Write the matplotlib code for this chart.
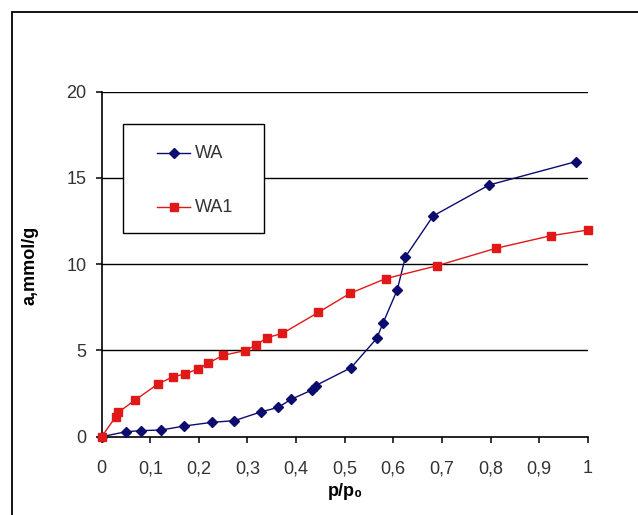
import matplotlib
matplotlib.use("Agg")
import matplotlib.pyplot as plt
from matplotlib.patches import Rectangle
from matplotlib.lines import Line2D

plt.rcParams['font.family'] = ['Liberation Sans', 'DejaVu Sans']

wa_x = [0.0, 0.05, 0.081, 0.123, 0.17, 0.226, 0.273, 0.327, 0.363, 0.39, 0.432, 0.44,
        0.513, 0.566, 0.579, 0.608, 0.625, 0.682, 0.797, 0.975]
wa_y = [0.0, 0.29, 0.35, 0.39, 0.62, 0.83, 0.93, 1.43, 1.7, 2.17, 2.7, 2.96,
        4.0, 5.7, 6.6, 8.5, 10.43, 12.8, 14.59, 15.94]

wa1_x = [0.0, 0.029, 0.034, 0.069, 0.115, 0.147, 0.171, 0.199, 0.218, 0.25, 0.295, 0.317,
         0.34, 0.372, 0.446, 0.511, 0.584, 0.69, 0.811, 0.924, 1.0]
wa1_y = [0.0, 1.16, 1.41, 2.13, 3.04, 3.48, 3.63, 3.94, 4.25, 4.72, 4.99, 5.3,
         5.74, 5.99, 7.21, 8.31, 9.16, 9.91, 10.92, 11.65, 11.98]

x_ticks = [0, 0.1, 0.2, 0.3, 0.4, 0.5, 0.6, 0.7, 0.8, 0.9, 1.0]
x_tick_labels = ['0', '0,1', '0,2', '0,3', '0,4', '0,5', '0,6', '0,7', '0,8', '0,9', '1']
y_ticks = [0, 5, 10, 15, 20]

blue = '#0c0c6e'
red = '#e01818'
txt = '#333333'
fs = 13

W, H = 638, 515
fig = plt.figure(figsize=(W/100, H/100), dpi=100)
# outer frame
fig.add_artist(Rectangle((12/W, -0.1), 1.0, (H - 11.5)/H + 0.1, transform=fig.transFigure,
                         fill=False, edgecolor='black', linewidth=1.3))

ax = fig.add_axes([101.7/W, (H - 436.7)/H, 486/W, 345/H])
ax.set_xlim(0, 1)
ax.set_ylim(0, 20)

for yv in y_ticks[1:]:
    ax.axhline(yv, color='black', linewidth=1.0, zorder=1)

ax.plot(wa_x, wa_y, color=blue, linewidth=1.0, marker='D', markersize=5,
        markerfacecolor=blue, markeredgecolor=blue, clip_on=False, zorder=3, label='WA')
ax.plot(wa1_x, wa1_y, color=red, linewidth=1.0, marker='s', markersize=5.5,
        markerfacecolor=red, markeredgecolor=red, clip_on=False, zorder=4, label='WA1')

for s in ['top', 'right']:
    ax.spines[s].set_visible(False)
for s in ['left', 'bottom']:
    ax.spines[s].set_linewidth(1.2)
    ax.spines[s].set_color('black')

ax.set_xticks(x_ticks)
ax.set_xticklabels(x_tick_labels)
ax.set_yticks(y_ticks)
ax.tick_params(axis='both', direction='out', length=4.3, width=1.1, colors='black',
               labelcolor=txt, labelsize=fs)
ax.tick_params(axis='x', pad=12.5)
ax.tick_params(axis='y', pad=6.5)

fig.text(345/W, 1 - 491/H, 'p/p₀', fontsize=fs, fontweight='bold', ha='center', va='center')
fig.text(30/W, 1 - 265/H, 'a,mmol/g', fontsize=fs, fontweight='bold', ha='center', va='center',
         rotation=90)

# legend box
lx0, ly0, lx1, ly1 = 122.5, 123.5, 263.5, 233
fig.add_artist(Rectangle((lx0/W, 1 - ly1/H), (lx1 - lx0)/W, (ly1 - ly0)/H,
                         transform=fig.transFigure, facecolor='white', edgecolor='black',
                         linewidth=1.0, zorder=5))
for yy, col, mk, ms, lab in [(153, blue, 'D', 5, 'WA'), (207, red, 's', 5.5, 'WA1')]:
    fy = 1 - yy/H
    fig.add_artist(Line2D([157/W, 190/W], [fy, fy], transform=fig.transFigure,
                          color=col, linewidth=1.0, zorder=6))
    fig.add_artist(Line2D([173.5/W], [fy], transform=fig.transFigure, color=col,
                          marker=mk, markersize=ms, markerfacecolor=col,
                          markeredgecolor=col, zorder=7))
    fig.text(195/W, fy, lab, fontsize=fs, color=txt, va='center', ha='left', zorder=7)

fig.savefig('out.png', dpi=100, facecolor='white')
